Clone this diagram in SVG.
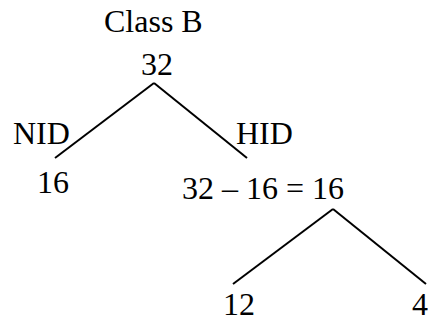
<svg xmlns="http://www.w3.org/2000/svg" width="428" height="323" viewBox="0 0 428 323">
<style>
text{font-family:"Liberation Serif","Times New Roman",serif;font-size:32px;fill:#000}
.c line{stroke:#000;stroke-width:2;fill:none}
</style>
<rect width="428" height="323" fill="#fff"/>
<g id="title"><text x="104" y="32">Class B</text></g>
<g id="root"><text x="141" y="75">32</text></g>
<g id="nid"><text x="13" y="144">NID</text></g>
<g id="hid"><text x="236" y="144">HID</text></g>
<g id="n16"><text x="37" y="193">16</text></g>
<g id="calc"><text x="182" y="199">32 – 16 = 16</text></g>
<g id="n12"><text x="223" y="315">12</text></g>
<g id="n4"><text x="412" y="315">4</text></g>
<g class="c" id="connectors">
<line x1="154" y1="83" x2="55" y2="158"/>
<line x1="154" y1="83" x2="247" y2="158"/>
<line x1="333" y1="209" x2="233" y2="284"/>
<line x1="333" y1="209" x2="426" y2="284"/>
</g>
</svg>
